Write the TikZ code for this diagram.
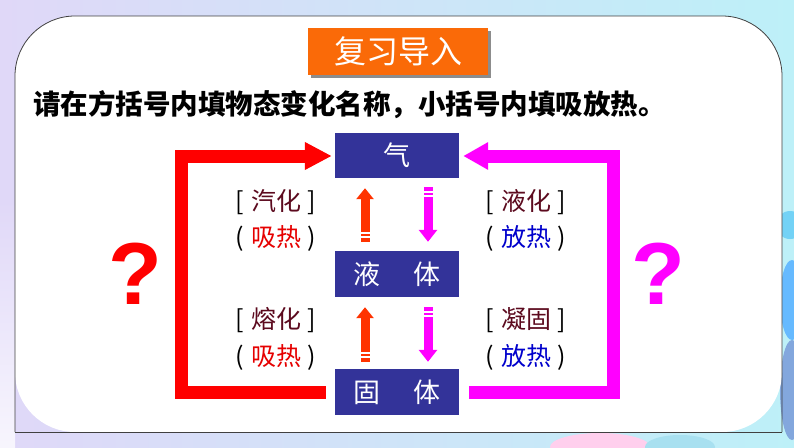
\documentclass[tikz,border=0pt]{standalone}
\usepackage{fontspec}
\newfontfamily\cjk{Noto Sans CJK SC}
\newfontfamily\qfont{Liberation Sans}
\usetikzlibrary{arrows.meta}
\definecolor{boxblue}{HTML}{333399}
\definecolor{titleor}{HTML}{FA6A08}
\definecolor{redline}{HTML}{FF0000}
\definecolor{magline}{HTML}{FF00FF}
\definecolor{uparr}{HTML}{FF3300}
\definecolor{termc}{HTML}{5C0A1E}
\definecolor{absorb}{HTML}{E60000}
\definecolor{release}{HTML}{0000CC}
\definecolor{bgL}{HTML}{E0D8F8}
\definecolor{bgR}{HTML}{BDF0F8}
\begin{document}
\begin{tikzpicture}[x=1pt,y=-1pt,
  statebox/.style={fill=boxblue, minimum width=124pt, minimum height=45pt, inner sep=0pt, text=white, font=\cjk\fontsize{27pt}{30pt}\selectfont},
  lab/.style={inner sep=0pt, font=\cjk\fontsize{25pt}{30pt}\selectfont},
  bigred/.style={draw=redline, line width=13pt, line join=miter, -{Triangle[length=27pt,width=26pt]}},
  bigmag/.style={draw=magline, line width=13pt, line join=miter, -{Triangle[length=25pt,width=26pt]}},
  smallup/.style={draw=uparr, line width=9pt, -{Triangle[length=11pt,width=17pt]}},
  smalldown/.style={draw=magline, line width=9pt, -{Triangle[length=12pt,width=18pt]}},
  stripe/.style={draw=white, line width=1.2pt},
  qmark/.style={inner sep=0pt, font=\qfont\bfseries\fontsize{88pt}{96pt}\selectfont}
]
\useasboundingbox (0,0) rectangle (794,447);
% background
\shade[left color=bgL, right color=bgR] (0,0) rectangle (794,447);
\shade[top color=bgL, bottom color=white!75!bgL] (0,200) rectangle (15,447);
\fill[pink!70!magenta!40] (600,447) ellipse [x radius=50, y radius=14];
\fill[violet!30!cyan!40] (680,447) ellipse [x radius=35, y radius=12];
\fill[cyan!55] (790,225) circle (14);
\fill[blue!45!cyan!60] (792,300) ellipse [x radius=12, y radius=40];
\fill[cyan!50!blue!50] (792,390) ellipse [x radius=12, y radius=50];
% panel
\fill[white, rounded corners=60pt] (15,432) -- (15,16) -- (782,16) -- (782,432) -- cycle;
\draw[black!75, line width=0.8pt, rounded corners=60pt] (15,432) -- (15,16) -- (782,16) -- (782,432);
\draw[black!75, line width=0.8pt] (15,432) -- (782,432);
% title
\fill[black!45] (311,31) rectangle (491,78);
\node[fill=titleor, minimum width=180pt, minimum height=47pt, inner sep=0pt, text=white,
  font=\cjk\fontsize{32pt}{36pt}\selectfont] (title) at (398,51.5) {复习导入};
% instruction
\node[anchor=west, inner sep=0pt, font=\cjk\bfseries\fontsize{27.5pt}{30pt}\selectfont] (instr) at (33,105)
  {请在方括号内填物态变化名称，小括号内填吸放热。};
% state boxes
\node[statebox] (gas) at (397,155.5) {气};
\node[statebox, minimum height=46pt] (liquid) at (397,274) {液\hspace{33pt}体};
\node[statebox, minimum height=46pt] (solid) at (397,392) {固\hspace{33pt}体};
% big connectors
\coordinate (rl) at (181,392);
\coordinate (ru) at (181,156);
\coordinate (ml) at (613,392);
\coordinate (mu) at (613,156);
\draw[bigred] ([xshift=-9pt]solid.west) -- (rl) -- (ru) -- ([xshift=-3pt,yshift=-0.5pt]gas.west);
\draw[bigmag] ([xshift=10pt]solid.east) -- (ml) -- (mu) -- ([xshift=4pt,yshift=-0.5pt]gas.east);
% small arrows
\draw[smallup] ([xshift=-32pt,yshift=9pt]liquid.north) -- ([xshift=-32pt,yshift=-10pt]gas.south);
\draw[smalldown] ([xshift=31pt,yshift=-9pt]gas.south) -- ([xshift=31pt,yshift=9pt]liquid.north);
\draw[smallup] ([xshift=-32pt,yshift=7pt]solid.north) -- ([xshift=-32pt,yshift=-10pt]liquid.south);
\draw[smalldown] ([xshift=31pt,yshift=-10pt]liquid.south) -- ([xshift=31pt,yshift=7pt]solid.north);
% stripes
\draw[stripe] (359,233) -- (371,233);
\draw[stripe] (359,237) -- (371,237);
\draw[stripe] (422,192) -- (434,192);
\draw[stripe] (422,196) -- (434,196);
\draw[stripe] (359,353) -- (371,353);
\draw[stripe] (359,357) -- (371,357);
\draw[stripe] (422,312) -- (434,312);
\draw[stripe] (422,316) -- (434,316);
% labels
\node[lab] (l1) at (275.5,202) {[\hspace{8pt}{\color{termc}汽化}\hspace{6pt}]};
\node[lab] (l2) at (275.5,238) {(\hspace{8pt}{\color{absorb}吸热}\hspace{6pt})};
\node[lab] (r1) at (525.5,202) {[\hspace{8pt}{\color{termc}液化}\hspace{6pt}]};
\node[lab] (r2) at (525.5,238) {(\hspace{8pt}{\color{release}放热}\hspace{6pt})};
\node[lab] (l3) at (275.5,320) {[\hspace{8pt}{\color{termc}熔化}\hspace{6pt}]};
\node[lab] (l4) at (275.5,357) {(\hspace{8pt}{\color{absorb}吸热}\hspace{6pt})};
\node[lab] (r3) at (525.5,320) {[\hspace{8pt}{\color{termc}凝固}\hspace{6pt}]};
\node[lab] (r4) at (525.5,357) {(\hspace{8pt}{\color{release}放热}\hspace{6pt})};
% question marks
\node[qmark, text=redline] (q1) at (135,274) {?};
\node[qmark, text=magline] (q2) at (658,274) {?};
\end{tikzpicture}
\end{document}
